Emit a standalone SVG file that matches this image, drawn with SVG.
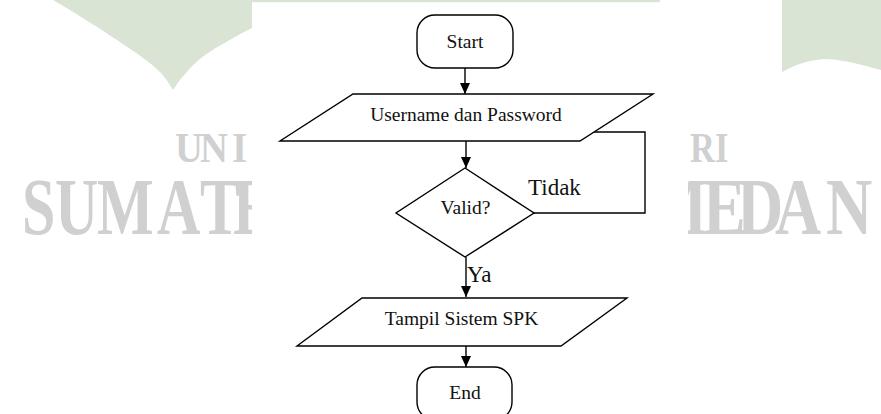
<svg xmlns="http://www.w3.org/2000/svg" width="881" height="414" viewBox="0 0 881 414">
  <style>
    .wm { fill: #d9e4d5; }
    .wmtext { fill: #d0d0d0; font-family: "Liberation Serif", "Times New Roman", serif; font-weight: bold; }
    .shape { fill: #ffffff; stroke: #000000; stroke-width: 1.4; }
    .edge { fill: none; stroke: #000000; stroke-width: 1.4; }
    .label { font-family: "Liberation Serif", "Times New Roman", serif; font-size: 19.5px; fill: #111111; }
    .big { font-size: 23px; }
    .mid { text-anchor: middle; }
  </style>
  <defs>
    <marker id="arrow" viewBox="0 0 11 10" markerWidth="11" markerHeight="10" refX="11" refY="5" orient="auto" markerUnits="userSpaceOnUse">
      <path d="M0,0 L11,5 L0,10 Z" fill="#000000"/>
    </marker>
  </defs>

  <!-- background watermark -->
  <g id="watermark">
    <path class="wm" d="M53,0 C70,10 95,25 117,40 C135,52 150,62 160,72 C166,78 170,85 173,90 C178,82 190,66 205,55 C220,45 238,35 252,28 L252,0 Z"/>
    <rect class="wm" x="252" y="0" width="408" height="2.5"/>
    <path class="wm" d="M782,0 L881,0 L881,70 C862,65 845,60 827,59 C812,59 797,64 782,72 Z"/>
    <g transform="scale(0.9 1)">
      <text class="wmtext" font-size="43" x="194.4 222.2 257.8" y="162">UNI</text>
    </g>
    <g transform="scale(0.8 1)">
      <text class="wmtext" font-size="43" x="862.5 893.8" y="162">RI</text>
    </g>
    <g transform="scale(0.75 1)">
      <text class="wmtext" font-size="80" x="29.3 73.3 129.3 209.3 266.7 310.7" y="234">SUMATE</text>
    </g>
    <g transform="scale(0.8 1)">
      <text class="wmtext" font-size="80" x="808.8 878.8 921.3 968.8 1032.5" y="234">MEDAN</text>
    </g>
    <rect x="252" y="2.5" width="436" height="412" fill="#ffffff"/>
  </g>

  <!-- connectors -->
  <g id="connectors">
    <line class="edge" x1="465" y1="68" x2="465" y2="94" marker-end="url(#arrow)"/>
    <line class="edge" x1="466" y1="141" x2="466" y2="168" marker-end="url(#arrow)"/>
    <line class="edge" x1="466" y1="257" x2="466" y2="297" marker-end="url(#arrow)"/>
    <line class="edge" x1="466" y1="346" x2="466" y2="367" marker-end="url(#arrow)"/>
    <polyline class="edge" points="534,213 645,213 645,132 594,132"/>
    <text class="label big" x="528" y="195">Tidak</text>
    <text class="label big" x="467" y="282">Ya</text>
  </g>

  <!-- nodes -->
  <g id="start">
    <rect class="shape" x="417" y="15" width="96" height="53" rx="18" ry="18"/>
    <text class="label mid" x="465" y="48">Start</text>
  </g>
  <g id="input-login">
    <polygon class="shape" points="353,94 653,94 580,141 280,141"/>
    <text class="label mid" x="466" y="120.5">Username dan Password</text>
  </g>
  <g id="check-valid">
    <polygon class="shape" points="465,168 534,213 465,257 396,213"/>
    <text class="label mid" x="465.5" y="214">Valid?</text>
  </g>
  <g id="show-spk">
    <polygon class="shape" points="362,298 627,298 561,346 297,346"/>
    <text class="label mid" x="461.5" y="325">Tampil Sistem SPK</text>
  </g>
  <g id="end">
    <rect class="shape" x="417" y="367" width="95" height="53" rx="18" ry="18"/>
    <text class="label mid" x="465" y="399">End</text>
  </g>
</svg>
